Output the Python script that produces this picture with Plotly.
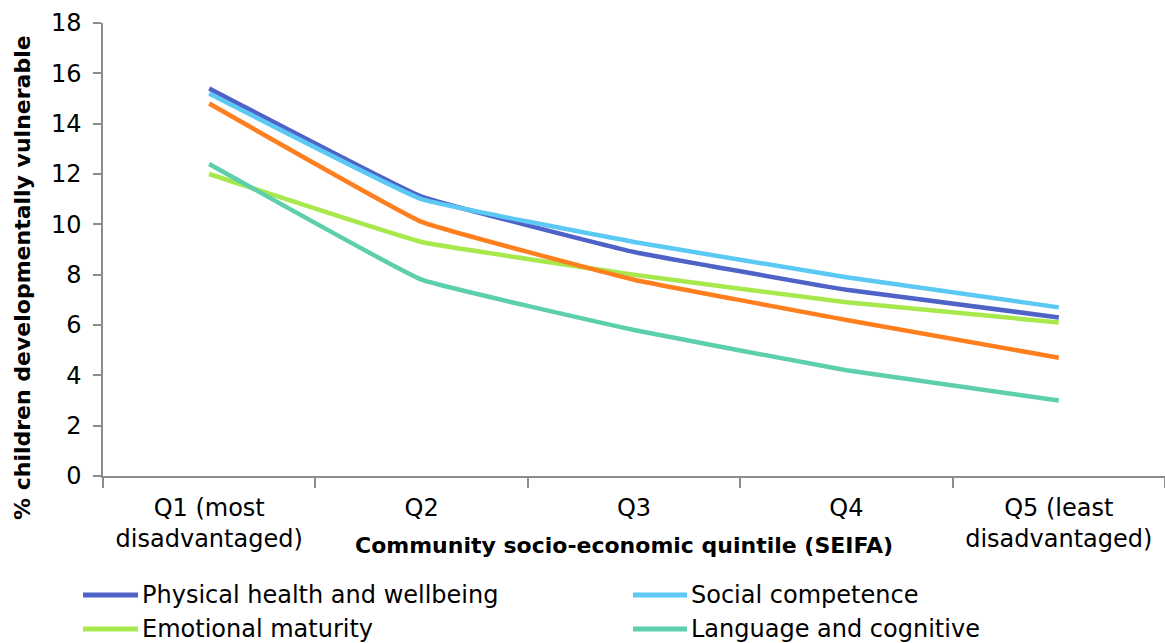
import plotly.graph_objects as go

# Community socio-economic quintiles (SEIFA)
quintiles = ["Q1 (most<br>disadvantaged)", "Q2", "Q3", "Q4", "Q5 (least<br>disadvantaged)"]

# % of children developmentally vulnerable, by AEDC domain
physical = [15.4, 11.1, 8.9, 7.4, 6.3]
social = [15.2, 11.0, 9.3, 7.9, 6.7]
emotional = [12.0, 9.3, 8.0, 6.9, 6.1]
language = [12.4, 7.8, 5.8, 4.2, 3.0]
communication = [14.8, 10.1, 7.8, 6.2, 4.7]

series_names = [
    "Physical health and wellbeing",
    "Social competence",
    "Emotional maturity",
    "Language and cognitive",
    "Communication skills and general knowledge",
]
series_values = [physical, social, emotional, language, communication]
series_colors = ["#4E62C7", "#5BC9F3", "#A7E84C", "#5DCFAC", "#FF7F1F"]

y_ticks = [0, 2, 4, 6, 8, 10, 12, 14, 16, 18]

W, H = 1165, 643
ML, MR, MT, MB = 103, 0, 23, 167
PW, PH = W - ML - MR, H - MT - MB


def px_x(p):
    return (p - ML) / PW


def px_y(p):
    return (H - MB - p) / PH


FONT = "DejaVu Sans"

fig = go.Figure()
for name, vals, col in zip(series_names, series_values, series_colors):
    fig.add_trace(go.Scatter(
        x=quintiles, y=vals, name=name, mode="lines",
        line=dict(color=col, width=4.5, shape="spline", smoothing=0.25),
        showlegend=False,
    ))

# Two-column legend below the chart
legend_rows = [(595, 0), (595, 1), (629, 0), (629, 1)]
col_x = [(83, 138, 140), (633, 687, 689)]
shapes = []
annotations = []
for (row_y, c), name, col in zip(legend_rows, series_names[:4], series_colors[:4]):
    x0, x1, xt = col_x[c]
    shapes.append(dict(
        type="line", xref="paper", yref="paper",
        x0=px_x(x0), x1=px_x(x1), y0=px_y(row_y), y1=px_y(row_y),
        line=dict(color=col, width=5),
    ))
    annotations.append(dict(
        text=name, xref="paper", yref="paper",
        x=px_x(xt), y=px_y(row_y), xanchor="left", yanchor="middle",
        showarrow=False, font=dict(family=FONT, size=24, color="#000000"),
    ))

# Axis titles
annotations.append(dict(
    text="<b>% children developmentally vulnerable</b>",
    xref="paper", yref="paper", x=px_x(22.5), y=px_y(277.5),
    xanchor="center", yanchor="middle", textangle=-90, showarrow=False,
    font=dict(family=FONT, size=22, color="#000000"),
))
annotations.append(dict(
    text="<b>Community socio-economic quintile (SEIFA)</b>",
    xref="paper", yref="paper", x=px_x(624), y=px_y(545),
    xanchor="center", yanchor="middle", showarrow=False,
    font=dict(family=FONT, size=22, color="#000000"),
))

fig.update_layout(
    width=W, height=H,
    margin=dict(l=ML, r=MR, t=MT, b=MB, autoexpand=False),
    paper_bgcolor="white", plot_bgcolor="white",
    font=dict(family=FONT, size=24, color="#000000"),
    shapes=shapes, annotations=annotations,
    xaxis=dict(
        type="category", range=[-0.5, 4.5], tickson="boundaries",
        showline=True, linecolor="#8C8C8C", linewidth=1.5,
        ticks="outside", ticklen=10, tickcolor="#8C8C8C", tickwidth=1.5,
        showgrid=False, zeroline=False,
        tickfont=dict(family=FONT, size=24, color="#000000"),
        ticklabelstandoff=9,
    ),
    yaxis=dict(
        range=[0, 18], tickvals=y_ticks,
        showline=True, linecolor="#8C8C8C", linewidth=1.5,
        ticks="outside", ticklen=8, tickcolor="#8C8C8C", tickwidth=1.5,
        showgrid=False, zeroline=False,
        tickfont=dict(family=FONT, size=24, color="#000000"),
        ticklabelstandoff=7,
    ),
)

fig.write_html("out.html")
